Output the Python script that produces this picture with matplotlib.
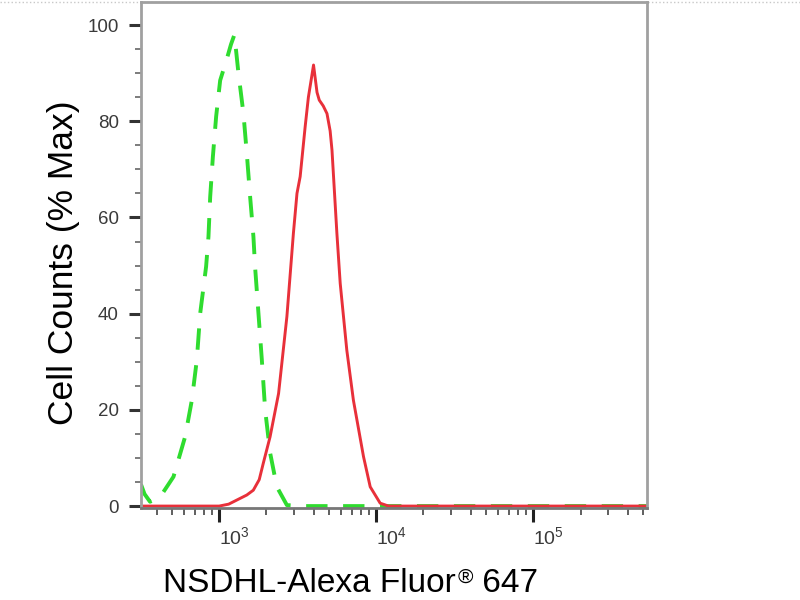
import numpy as np
import matplotlib
matplotlib.use("Agg")
import matplotlib.pyplot as plt
from matplotlib.ticker import LogLocator, MultipleLocator, NullFormatter
from matplotlib.lines import Line2D

plt.rcParams['font.family'] = ['Liberation Sans', 'DejaVu Sans']
plt.rcParams['mathtext.fontset'] = 'custom'
plt.rcParams['mathtext.rm'] = 'Liberation Sans'
plt.rcParams['mathtext.it'] = 'Liberation Sans:italic'
plt.rcParams['mathtext.bf'] = 'Liberation Sans:bold'

# --- histogram traces (fluorescence, % max) ---
control_x = [318, 335, 363, 421, 512, 607, 670, 721, 757, 826, 855, 877, 912,
             957, 1015, 1120, 1190, 1251, 1327, 1428, 1500, 1575, 1653, 1693,
             1780, 1870, 1963, 2113, 2330, 2700, 3500, 10000, 530000]
control_y = [4.5, 2.5, 0.9, 1.9, 6.1, 14.4, 22, 30.4, 40, 49.8, 56, 64.3, 72.6,
             81, 88.5, 93, 96, 98, 90, 81.6, 73.3, 64.3, 56, 49.8,
             40, 30.4, 20, 11, 4, 0.2, 0, 0, 0]

nsdhl_x = [318, 1000, 1150, 1360, 1500, 1650, 1800, 1910, 2110, 2390, 2700,
           2970, 3130, 3280, 3530, 3700, 3850, 3990, 4200, 4340, 4600, 4860,
           5090, 5230, 5620, 5900, 6500, 7160, 8300, 9160, 10600, 12000, 530000]
nsdhl_y = [0, 0, 0.4, 1.6, 2.3, 3.3, 5.5, 8.9, 14.4, 23.4, 39.4,
           56.7, 65, 68.5, 78.9, 85, 88.5, 91.7, 86, 84.4, 83.2, 81.6,
           78, 74, 56.7, 46.3, 32.4, 22, 10.3, 4, 0.6, 0, 0]

x_ticks = [1e3, 1e4, 1e5]
x_tick_labels = [r'$\mathregular{10^{3}}$', r'$\mathregular{10^{4}}$', r'$\mathregular{10^{5}}$']
y_ticks = [0, 20, 40, 60, 80, 100]

fig = plt.figure(figsize=(8, 6), dpi=100)
ax = fig.add_axes([141 / 800, 92 / 600, 506 / 800, 506 / 600])

# isotype control (dashed green) under the antibody trace (red)
ax.plot(control_x, control_y, color='#2fdc2f', lw=2.8, ls=(0, (5.5, 4)),
        dash_capstyle='butt', solid_joinstyle='round')
ax.plot(nsdhl_x, nsdhl_y, color='#e8303a', lw=2.1)

ax.set_xscale('log')
ax.set_xlim(318, 530000)
ax.set_ylim(-0.4, 104.8)

ax.set_xticks(x_ticks)
ax.set_xticklabels(x_tick_labels)
ax.xaxis.set_minor_locator(LogLocator(base=10, subs=np.arange(2, 10), numticks=20))
ax.xaxis.set_minor_formatter(NullFormatter())
plt.setp(ax.get_xticklabels(), ha='left')

ax.set_yticks(y_ticks)
ax.yaxis.set_minor_locator(MultipleLocator(5))

ax.tick_params(axis='y', which='major', direction='out', length=9, width=2.2,
               color='#333333', labelsize=13.5, labelcolor='#3a3a3a', pad=7)
ax.tick_params(axis='y', which='minor', direction='out', length=4, width=1.2,
               color='#666666')
ax.tick_params(axis='x', which='major', direction='out', length=10, width=2.2,
               color='#222222', labelsize=14, labelcolor='#3a3a3a', pad=3)
ax.tick_params(axis='x', which='minor', direction='out', length=5, width=1.2,
               color='#444444')

for side in ['left', 'top', 'right']:
    ax.spines[side].set_color('#a0a0a0')
    ax.spines[side].set_linewidth(2)
ax.spines['bottom'].set_color('#777777')
ax.spines['bottom'].set_linewidth(2)

# axis titles
fig.text(64 / 800, 0.563, 'Cell Counts (% Max)', rotation=90, fontsize=25.5,
         ha='center', va='center')

base_y = 8 / 600
t1 = fig.text(163 / 800, base_y, 'NSDHL-Alexa Fluor', fontsize=24,
              ha='left', va='baseline')
t2 = ax.annotate('\u00ae', xy=(1, base_y), xycoords=(t1, 'figure fraction'),
                 xytext=(1, 6.5), textcoords='offset points', fontsize=15,
                 ha='left', va='baseline', annotation_clip=False)
ax.annotate(' 647', xy=(1, base_y), xycoords=(t2, 'figure fraction'),
            fontsize=24, ha='left', va='baseline', annotation_clip=False)

# faint dotted border along the top of the image
fig.add_artist(Line2D([0, 1], [1 - 1.5 / 600] * 2, transform=fig.transFigure,
                      color='#c8c8c8', lw=1, ls=':', zorder=-1))

fig.savefig('out.png', dpi=100)
